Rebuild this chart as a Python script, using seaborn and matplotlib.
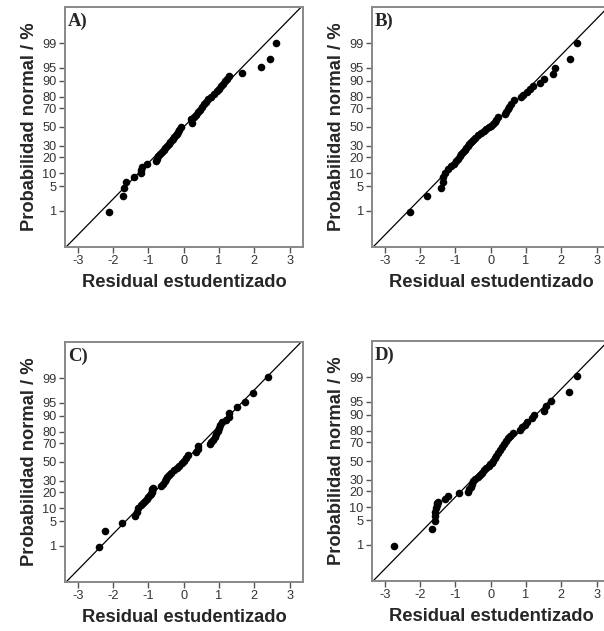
from statistics import NormalDist

import matplotlib
matplotlib.use('Agg')
import matplotlib.pyplot as plt
import seaborn as sns
import pandas as pd

# residual (x) and normal probability in % (y)
resid_a = [-2.12, -1.72, -1.70, -1.64, -1.42, -1.22, -1.21, -1.19, -1.05, -0.77,
           -0.75, -0.72, -0.68, -0.62, -0.57, -0.52, -0.47, -0.42, -0.38, -0.34,
           -0.30, -0.26, -0.22, -0.18, -0.15, -0.12, -0.08, 0.24, 0.22, 0.30,
           0.35, 0.40, 0.46, 0.52, 0.58, 0.62, 0.70, 0.78, 0.86, 0.94,
           1.00, 1.06, 1.12, 1.18, 1.24, 1.28, 1.66, 2.18, 2.45, 2.62]
prob_a = [0.9, 2.7, 4.5, 6.3, 8.2, 10.0, 11.8, 13.6, 15.5, 17.3,
          19.1, 20.9, 22.7, 24.5, 26.4, 28.2, 30.0, 31.8, 33.6, 35.5,
          37.3, 39.1, 40.9, 42.7, 44.5, 46.4, 50.5, 54.5, 58.5, 61.0,
          63.5, 66.0, 68.5, 71.0, 73.5, 76.0, 78.5, 80.0, 82.0, 84.0,
          85.5, 87.0, 88.5, 90.0, 91.0, 92.0, 93.4, 95.2, 97.0, 99.0]

resid_b = [-2.27, -1.81, -1.42, -1.36, -1.34, -1.30, -1.20, -1.12, -1.04, -0.98,
           -0.93, -0.88, -0.83, -0.78, -0.74, -0.70, -0.65, -0.60, -0.56, -0.50,
           -0.43, -0.36, -0.28, -0.20, -0.12, -0.05, 0.02, 0.08, 0.12, 0.16,
           0.20, 0.40, 0.44, 0.48, 0.53, 0.58, 0.66, 0.86, 0.92, 1.02,
           1.12, 1.20, 1.40, 1.50, 1.76, 1.82, 2.25, 2.44]
prob_b = [0.9, 2.7, 4.5, 6.4, 8.2, 10.0, 12.0, 13.8, 15.5, 17.2,
          19.0, 20.8, 22.5, 24.2, 26.0, 28.0, 30.0, 32.0, 34.0, 36.0,
          38.5, 41.0, 43.5, 45.5, 47.5, 49.5, 51.5, 53.5, 55.5, 58.0,
          61.0, 64.0, 66.5, 69.0, 71.5, 74.0, 77.0, 79.5, 81.5, 83.5,
          85.5, 87.0, 89.0, 91.0, 92.8, 95.0, 97.0, 99.0]

resid_c = [-2.41, -2.24, -1.74, -1.37, -1.33, -1.28, -1.22, -1.16, -1.10, -1.05,
           -1.00, -0.96, -0.93, -0.91, -0.90, -0.89, -0.88, -0.64, -0.58, -0.53,
           -0.50, -0.46, -0.42, -0.36, -0.28, -0.20, -0.12, -0.06, 0.00, 0.08,
           0.11, 0.36, 0.40, 0.42, 0.74, 0.78, 0.84, 0.88, 0.92, 0.96,
           1.00, 1.03, 1.10, 1.20, 1.28, 1.29, 1.52, 1.74, 1.95, 2.38]
prob_c = [0.9, 2.7, 4.6, 6.6, 8.4, 10.0, 11.4, 12.8, 14.2, 15.4,
          16.6, 17.8, 19.0, 20.2, 21.4, 22.6, 23.8, 25.5, 27.5, 29.5,
          31.5, 33.5, 36.0, 38.5, 41.0, 43.5, 46.0, 48.5, 51.0, 54.0,
          57.5, 61.0, 64.0, 67.0, 69.0, 71.0, 73.0, 75.5, 78.0, 80.5,
          82.5, 85.0, 86.5, 88.0, 89.5, 91.5, 93.5, 95.3, 97.2, 99.1]

resid_d = [-2.74, -1.65, -1.59, -1.58, -1.57, -1.55, -1.53, -1.51, -1.49, -1.30,
           -1.21, -0.90, -0.64, -0.60, -0.56, -0.53, -0.50, -0.44, -0.36, -0.30,
           -0.24, -0.18, -0.12, -0.06, -0.02, 0.04, 0.08, 0.12, 0.16, 0.20,
           0.26, 0.32, 0.38, 0.44, 0.50, 0.56, 0.62, 0.84, 0.90, 0.96,
           1.02, 1.18, 1.24, 1.50, 1.56, 1.70, 2.23, 2.44]
prob_d = [0.9, 2.9, 4.7, 6.4, 8.0, 9.6, 11.0, 12.0, 13.0, 14.5,
          16.7, 18.4, 19.8, 21.5, 23.5, 26.0, 28.5, 30.5, 32.5, 35.0,
          37.4, 40.0, 42.0, 44.5, 46.5, 48.0, 50.5, 53.0, 56.0, 59.0,
          62.5, 65.5, 68.5, 71.0, 73.5, 76.0, 78.3, 80.8, 82.5, 84.0,
          86.0, 88.5, 90.0, 91.6, 93.5, 95.2, 97.2, 99.1]

panel_labels = ['A)', 'B)', 'C)', 'D)']
prob_ticks = [1, 5, 10, 20, 30, 50, 70, 80, 90, 95, 99]
resid_ticks = [-3, -2, -1, 0, 1, 2, 3]

norm = NormalDist()


def to_z(p):
    return norm.inv_cdf(p / 100.0)


sns.set_style('white')
plt.rcParams['font.family'] = ['Liberation Sans', 'DejaVu Sans']

fig = plt.figure(figsize=(6.04, 6.31), dpi=100)
W, H = 604.0, 631.0
# pixel boxes (left, top) of each panel
boxes = [(65, 7), (372, 7), (65, 342), (372, 341)]
aw, ah = 238, 240

data = [(resid_a, prob_a), (resid_b, prob_b), (resid_c, prob_c), (resid_d, prob_d)]

for (left, top), (res, prob), lab in zip(boxes, data, panel_labels):
    ax = fig.add_axes([left / W, 1 - (top + ah) / H, aw / W, ah / H])
    df = pd.DataFrame({'resid': res, 'z': [to_z(p) for p in prob]})
    ax.axline((0, 0), slope=1, color='black', lw=0.9, zorder=1)
    sns.scatterplot(data=df, x='resid', y='z', ax=ax, color='black',
                    s=30, edgecolor='black', linewidth=0, zorder=2)
    ax.set_xlim(-3.36, 3.38)
    ax.set_ylim(-3.33, 3.33)
    ax.set_xticks(resid_ticks)
    ax.set_xticklabels([str(t) for t in resid_ticks])
    ax.set_yticks([to_z(p) for p in prob_ticks])
    ax.set_yticklabels([str(p) for p in prob_ticks])
    ax.tick_params(axis='both', direction='out', length=4, width=1.0,
                   color='#555555', labelcolor='#333333', labelsize=9.2,
                   bottom=True, left=True, pad=2)
    for sp in ax.spines.values():
        sp.set_color('#888888')
        sp.set_linewidth(1.4)
    ax.set_xlabel('Residual estudentizado', fontsize=13.2, fontweight='bold',
                  labelpad=5)
    ax.set_ylabel('Probabilidad normal / %', fontsize=13.2, fontweight='bold',
                  labelpad=3)
    ax.text(0.013, 0.978, lab, transform=ax.transAxes, ha='left', va='top',
            fontsize=13.5, fontweight='bold', family='Liberation Serif')

fig.savefig('out.png', dpi=100)
